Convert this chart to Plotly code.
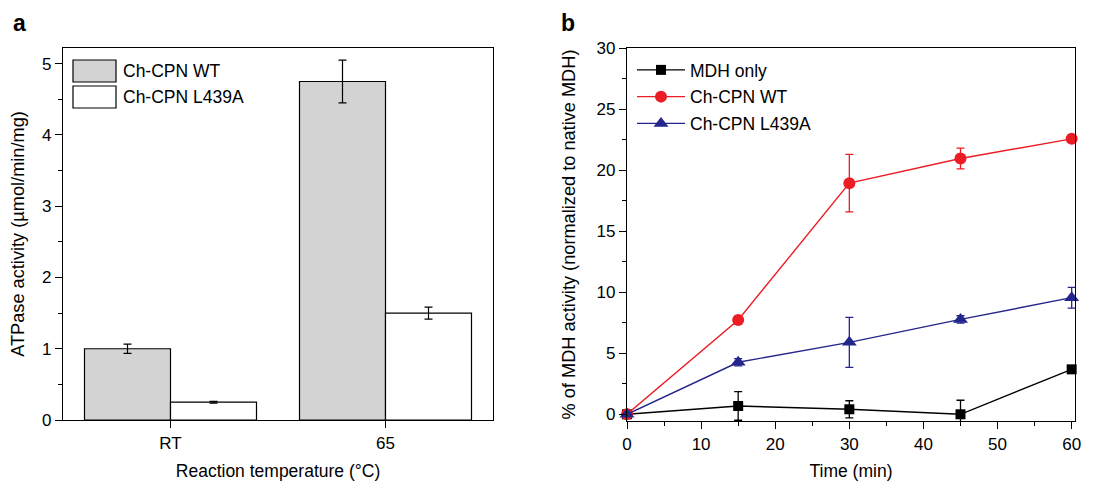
import plotly.graph_objects as go

# ---------- data: panel a ----------
temps = ["RT", "65"]
wt_atpase = [1.0, 4.75]
wt_atpase_err = [0.065, 0.30]
mut_atpase = [0.25, 1.50]
mut_atpase_err = [0.012, 0.085]

# ---------- data: panel b ----------
time_min = [0, 15, 30, 45, 60]
mdh_only = [0.0, 0.68, 0.41, 0.0, 3.68]
mdh_only_err = [0.0, 1.17, 0.70, 1.15, 0.15]
wt_refold = [0.0, 7.72, 18.93, 20.95, 22.56]
wt_refold_err = [0.0, 0.15, 2.35, 0.85, 0.25]
mut_refold = [0.0, 4.26, 5.89, 7.77, 9.55]
mut_refold_err = [0.0, 0.30, 2.05, 0.30, 0.85]

FONT = "Liberation Sans, Arial, Helvetica, sans-serif"
RED = "#ec1c24"
BLUE = "#25268c"
GRAY = "#d3d3d3"
TICK_SIZE = 17
XTITLE_SIZE = 17.5
YTITLE_SIZE = 18.2
LEG_SIZE = 17.5

# page has an 8px body margin: figure is sized to fit the 1099x481 window
OFF = 8
W, H = 1099 - OFF, 481 - OFF
def px(x):
    return (x - OFF) / W
def py(y):
    return 1 - (y - OFF) / H

fig = go.Figure()

# panel a bars
fig.add_trace(go.Bar(
    x=temps, y=wt_atpase, name="Ch-CPN WT",
    marker=dict(color=GRAY, line=dict(color="black", width=1.2)),
    error_y=dict(type="data", array=wt_atpase_err, color="black", thickness=1.2, width=4),
    xaxis="x", yaxis="y", showlegend=False,
))
fig.add_trace(go.Bar(
    x=temps, y=mut_atpase, name="Ch-CPN L439A",
    marker=dict(color="white", line=dict(color="black", width=1.2)),
    error_y=dict(type="data", array=mut_atpase_err, color="black", thickness=1.2, width=4),
    xaxis="x", yaxis="y", showlegend=False,
))

# panel b lines
for name, ys, errs, color, sym, size, grp in [
    ("MDH only", mdh_only, mdh_only_err, "black", "square", 10, "g1"),
    ("Ch-CPN WT", wt_refold, wt_refold_err, RED, "circle", 12, "g2"),
    ("Ch-CPN L439A", mut_refold, mut_refold_err, BLUE, "triangle-up", 13, "g3"),
]:
    fig.add_trace(go.Scatter(
        x=time_min, y=ys, name=name, mode="lines+markers",
        line=dict(color=color, width=1.4),
        marker=dict(color=color, symbol=sym, size=size),
        error_y=dict(type="data", array=errs, color=color, thickness=1.3, width=4),
        xaxis="x2", yaxis="y2", cliponaxis=False, legendgroup=grp,
    ))

axis_common = dict(
    showline=True, linecolor="black", linewidth=1.2, mirror=True,
    ticks="outside", ticklen=7, tickwidth=1.2, tickcolor="black",
    showgrid=False, zeroline=False, automargin=False,
    tickfont=dict(family=FONT, size=TICK_SIZE, color="black"),
)
minor_common = dict(ticks="outside", ticklen=4, tickwidth=1.2, tickcolor="black", showgrid=False)

fig.update_layout(
    width=W, height=H,
    margin=dict(l=0, r=0, t=0, b=0, autoexpand=False),
    paper_bgcolor="white", plot_bgcolor="white",
    font=dict(family=FONT, size=16, color="black"),
    barmode="group", bargap=0.2, bargroupgap=0,
    xaxis=dict(
        domain=[px(63), px(493)], anchor="y", range=[-0.5, 1.5],
        title=dict(text="Reaction temperature (°C)", font=dict(size=XTITLE_SIZE), standoff=17),
        **axis_common,
    ),
    yaxis=dict(
        domain=[py(420), py(48)], anchor="x", range=[0, 5.22], dtick=1,
        title=dict(text="ATPase activity (µmol/min/mg)", font=dict(size=YTITLE_SIZE), standoff=12),
        minor=dict(dtick=0.5, **minor_common),
        **axis_common,
    ),
    xaxis2=dict(
        domain=[px(627), px(1075)], anchor="y2", range=[0, 60.45], dtick=10,
        title=dict(text="Time (min)", font=dict(size=XTITLE_SIZE), standoff=16),
        minor=dict(dtick=5, **minor_common),
        **axis_common,
    ),
    yaxis2=dict(
        domain=[py(421), py(48)], anchor="x2", range=[-0.55, 30], dtick=5,
        title=dict(text="% of MDH activity (normalized to native MDH)", font=dict(size=YTITLE_SIZE), standoff=16),
        minor=dict(dtick=2.5, **minor_common),
        **axis_common,
    ),
    legend=dict(
        x=px(632), y=py(52), xanchor="left", yanchor="top",
        bgcolor="rgba(0,0,0,0)", borderwidth=0,
        font=dict(family=FONT, size=LEG_SIZE, color="black"),
        traceorder="grouped", tracegroupgap=1, itemwidth=48,
    ),
)

# custom legend for panel a (large swatches)
shapes = []
annotations = []
for (y0, y1, fill, label) in [(60, 82, GRAY, "Ch-CPN WT"), (86, 108, "white", "Ch-CPN L439A")]:
    shapes.append(dict(type="rect", xref="paper", yref="paper",
                       x0=px(73), x1=px(116), y0=py(y1), y1=py(y0),
                       fillcolor=fill, line=dict(color="black", width=1.2)))
    annotations.append(dict(xref="paper", yref="paper", x=px(121), y=py((y0 + y1) / 2),
                            text=label, showarrow=False, xanchor="left", yanchor="middle",
                            font=dict(family=FONT, size=LEG_SIZE, color="black")))

# panel letters
annotations.append(dict(xref="paper", yref="paper", x=px(11), y=py(23), text="<b>a</b>",
                        showarrow=False, xanchor="left", yanchor="middle",
                        font=dict(family=FONT, size=23, color="black")))
annotations.append(dict(xref="paper", yref="paper", x=px(559), y=py(23), text="<b>b</b>",
                        showarrow=False, xanchor="left", yanchor="middle",
                        font=dict(family=FONT, size=23, color="black")))

fig.update_layout(shapes=shapes, annotations=annotations)

fig.write_html("out.html")
